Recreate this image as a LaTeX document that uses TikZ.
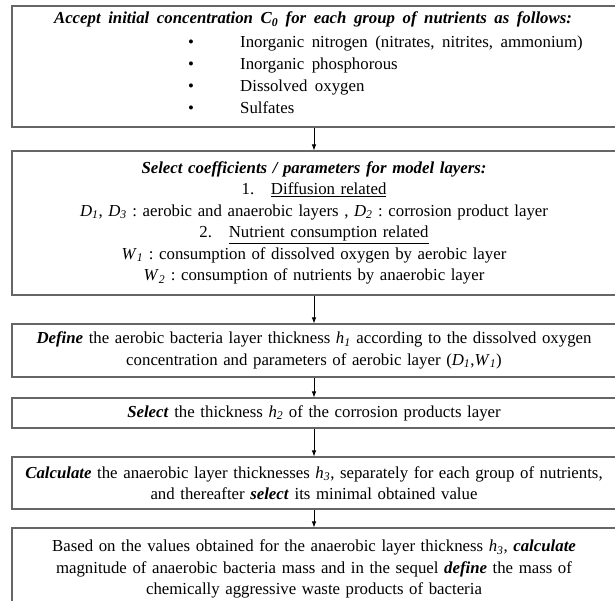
\documentclass[tikz,border=0pt]{standalone}
\usepackage{fontspec}
\setmainfont{Liberation Serif}
\newfontfamily\widefont[WordSpace=1.8]{Liberation Serif}
\usetikzlibrary{arrows.meta}
\frenchspacing

\newcommand{\subv}[2]{\textit{#1}\textsubscript{\textit{#2}}}
\newcommand{\bi}[1]{\textbf{\textit{#1}}}

\begin{document}
\begin{tikzpicture}[x=1pt,y=-1pt,
    stepbox/.style={draw=black!60, line width=1.1pt, minimum width=604pt,
        text width=600pt, inner sep=2pt, align=center,
        font=\fontsize{16.8}{21.5}\selectfont},
    item/.style={anchor=base west, inner sep=0pt,
        font=\widefont\fontsize{16.8}{21.5}\selectfont},
    flow/.style={-{Latex[length=6pt,width=4.5pt]}, line width=0.8pt}]
\useasboundingbox (0,0) rectangle (615,601);
\clip (0,0) rectangle (615,601);

% Initial concentrations
\node[stepbox, minimum height=121pt] (accept) at (314,66.5) {};
\node[item, anchor=base] (acceptT) at (313,24)
    {\bi{Accept initial concentration \subv{\textbf{C}}{\textbf{0}} for each group of nutrients as follows:}};
\foreach \y/\txt [count=\i] in {48/{Inorganic nitrogen (nitrates, nitrites, ammonium)},
        70/{Inorganic phosphorous}, 92/{Dissolved oxygen}, 114/Sulfates} {
    \node[item] (b\i) at (188,\y) {\textbullet};
    \node[item] (n\i) at (240,\y) {\txt};
}

% Coefficients of the layers
\node[stepbox, minimum height=144pt] (coeff) at (314,223) {%
    \bi{Select coefficients / parameters for model layers:}\\
    1.\hspace{1em}\underline{Diffusion related}\\
    \subv{D}{1}, \subv{D}{3} : aerobic and anaerobic layers , \subv{D}{2} : corrosion product layer\\
    2.\hspace{1em}\underline{Nutrient consumption related}\\
    \subv{W}{1} : consumption of dissolved oxygen by aerobic layer\\
    \subv{W}{2} : consumption of nutrients by anaerobic layer};

% Layer thicknesses
\node[stepbox, minimum height=53pt] (define) at (314,350.5) {%
    \bi{Define} the aerobic bacteria layer thickness \subv{h}{1} according to the dissolved oxygen\\
    concentration and parameters of aerobic layer (\subv{D}{1},\subv{W}{1})};
\node[stepbox, minimum height=30pt] (select) at (314,413) {%
    \bi{Select} the thickness \subv{h}{2} of the corrosion products layer};
\node[stepbox, minimum height=52pt] (calc) at (314,483) {%
    \bi{Calculate} the anaerobic layer thicknesses \subv{h}{3}, separately for each group of nutrients,\\
    and thereafter \bi{select} its minimal obtained value};

% Bacteria mass
\node[stepbox, minimum height=82pt] (mass) at (314,569) {%
    Based on the values obtained for the anaerobic layer thickness \subv{h}{3}, \bi{calculate}\\
    magnitude of anaerobic bacteria mass and in the sequel \bi{define} the mass of\\
    chemically aggressive waste products of bacteria};

% Arrows
\foreach \a/\b in {accept/coeff, coeff/define, define/select, select/calc, calc/mass}
    \draw[flow] (\a) -- (\b);
\end{tikzpicture}
\end{document}
